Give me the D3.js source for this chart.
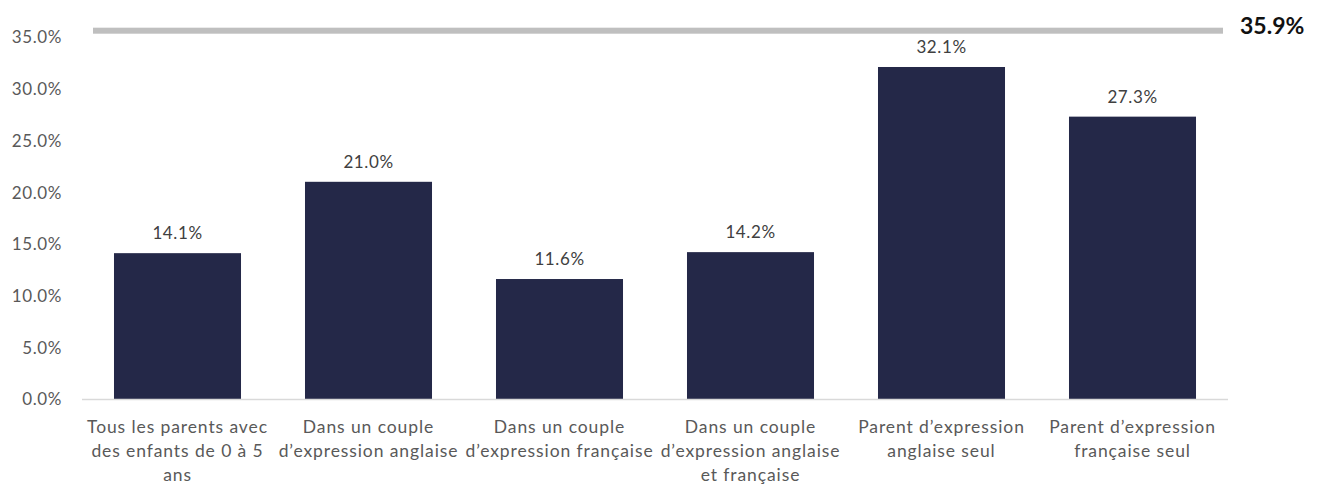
<!DOCTYPE html>
<html lang="fr">
  <head>
    <meta charset="UTF-8" />
    <title>Parents avec enfants de 0 à 5 ans</title>
    <style>
      body {
        margin: 0;
        background: #fff;
      }
      text {
        font-family: Lato, "Open Sans", sans-serif;
      }
      .tick text {
        fill: #595959;
        font-size: 17px;
        letter-spacing: 0.6px;
      }
      .cat {
        fill: #595959;
        font-size: 17.5px;
        letter-spacing: 0.9px;
      }
      .val {
        fill: #404040;
        font-size: 17px;
        letter-spacing: 0.6px;
      }
    </style>
  </head>
  <body>
    <svg width="1325" height="485"></svg>
    <script src="https://cdnjs.cloudflare.com/ajax/libs/d3/7.8.5/d3.min.js"></script>
    <script>
      // données
      const categories = [
        "Tous les parents avec\ndes enfants de 0 à 5\nans",
        "Dans un couple\nd’expression anglaise",
        "Dans un couple\nd’expression française",
        "Dans un couple\nd’expression anglaise\net française",
        "Parent d’expression\nanglaise seul",
        "Parent d’expression\nfrançaise seul"
      ];
      const values = [14.1, 21.0, 11.6, 14.2, 32.1, 27.3];
      const reference = 35.9;
      const yTicks = [0, 5, 10, 15, 20, 25, 30, 35];

      const svg = d3.select("svg");
      const margin = { top: 37, left: 82, right: 97, bottom: 86 };
      const W = 1325, H = 485;

      const x = d3.scaleBand()
        .domain(categories)
        .range([margin.left, W - margin.right])
        .paddingInner(0.335)
        .paddingOuter(0.1675);

      const y = d3.scaleLinear()
        .domain([0, 35])
        .range([H - margin.bottom, margin.top]);

      const fmt = (d) => d.toFixed(1) + "%";

      // axe vertical (texte seulement)
      const yAxis = svg.append("g")
        .attr("transform", `translate(${margin.left - 17},0)`)
        .call(d3.axisLeft(y).tickValues(yTicks).tickFormat(fmt).tickSize(0));
      yAxis.select(".domain").remove();
      yAxis.selectAll("text").attr("dy", "0.35em");

      // barres
      svg.append("g")
        .selectAll("rect")
        .data(values)
        .join("rect")
        .attr("x", (d, i) => x(categories[i]))
        .attr("y", (d) => y(d))
        .attr("width", x.bandwidth())
        .attr("height", (d) => y(0) - y(d))
        .attr("fill", "#242848");

      // ligne de base
      svg.append("line")
        .attr("x1", margin.left)
        .attr("x2", W - margin.right)
        .attr("y1", y(0) + 0.5)
        .attr("y2", y(0) + 0.5)
        .attr("stroke", "#d9d9d9")
        .attr("stroke-width", 1.5);

      // étiquettes de valeur
      svg.append("g")
        .selectAll("text")
        .data(values)
        .join("text")
        .attr("class", "val")
        .attr("x", (d, i) => x(categories[i]) + x.bandwidth() / 2)
        .attr("y", (d) => y(d) - 20)
        .attr("dy", "0.35em")
        .attr("text-anchor", "middle")
        .text(fmt);

      // étiquettes de catégorie
      const cat = svg.append("g")
        .selectAll("text")
        .data(categories)
        .join("text")
        .attr("class", "cat")
        .attr("text-anchor", "middle")
        .attr("x", (d) => x(d) + x.bandwidth() / 2)
        .attr("y", y(0) + 34);
      cat.selectAll("tspan")
        .data((d) => d.split("\n"))
        .join("tspan")
        .attr("x", function () { return this.parentNode.getAttribute("x"); })
        .attr("dy", (d, i) => (i === 0 ? 0 : 24))
        .text((d) => d);

      // ligne de référence
      svg.append("rect")
        .attr("x", 93)
        .attr("width", 1223 - 93)
        .attr("y", y(reference))
        .attr("height", 6)
        .attr("fill", "#bfbfbf");

      svg.append("text")
        .attr("x", 1240)
        .attr("y", y(reference) - 2)
        .attr("dy", "0.35em")
        .attr("font-size", 23)
        .attr("font-weight", "bold")
        .attr("fill", "#111")
        .text(fmt(reference));
    </script>
  </body>
</html>
